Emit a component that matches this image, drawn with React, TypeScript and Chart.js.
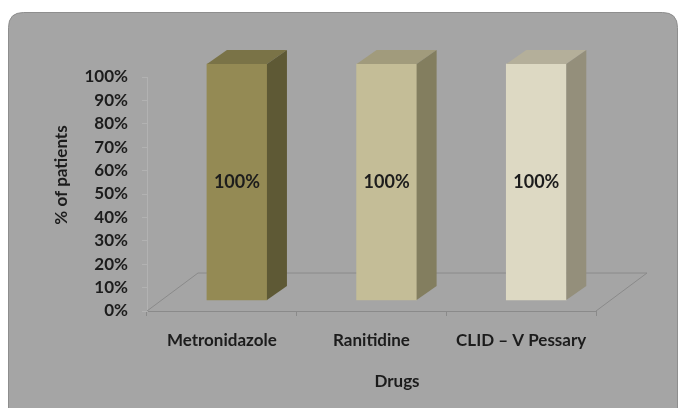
import { useEffect, useRef } from 'react';
import { Chart, registerables } from 'chart.js';

Chart.register(...registerables);

const drugs = ['Metronidazole', 'Ranitidine', 'CLID \u2013 V Pessary'];
const patientShare = [100, 100, 100];
const frontColors = ['#948a54', '#c4bd97', '#ddd9c3'];
const topColors = ['#7a7347', '#a19b7c', '#b4af9a'];
const sideColors = ['#5e5935', '#837e5f', '#948f7b'];
const yAxisTitle = '% of patients';
const xAxisTitle = 'Drugs';

const FONT = 'Lato, "Open Sans", "DejaVu Sans", sans-serif';
const FLOOR_DX = 51;
const FLOOR_DY = -38;
const BAR_DX = 20;
const BAR_DY = -14;

const threeD = {
  id: 'threeD',
  beforeDraw(chart: any) {
    const { ctx, width, height } = chart;
    ctx.save();
    ctx.fillStyle = '#ffffff';
    ctx.fillRect(0, 0, width, height);
    const x = 8.5, y = 12.5, w = 669, h = 430, r = 15;
    ctx.beginPath();
    ctx.moveTo(x + r, y);
    ctx.lineTo(x + w - r, y);
    ctx.quadraticCurveTo(x + w, y, x + w, y + r);
    ctx.lineTo(x + w, y + h);
    ctx.lineTo(x, y + h);
    ctx.lineTo(x, y + r);
    ctx.quadraticCurveTo(x, y, x + r, y);
    ctx.closePath();
    ctx.fillStyle = '#a5a5a5';
    ctx.fill();
    ctx.strokeStyle = '#8e8e8e';
    ctx.lineWidth = 1;
    ctx.stroke();
    ctx.restore();
  },
  beforeDatasetsDraw(chart: any) {
    const { ctx, chartArea } = chart;
    const { left, right, bottom } = chartArea;
    ctx.save();
    ctx.strokeStyle = '#8a8a8a';
    ctx.lineWidth = 1;
    ctx.beginPath();
    ctx.moveTo(left, bottom);
    ctx.lineTo(left + FLOOR_DX, bottom + FLOOR_DY);
    ctx.lineTo(right + FLOOR_DX, bottom + FLOOR_DY);
    ctx.lineTo(right, bottom);
    ctx.stroke();
    ctx.restore();
  },
  afterDatasetsDraw(chart: any) {
    const { ctx, chartArea } = chart;
    const meta = chart.getDatasetMeta(0);
    ctx.save();
    meta.data.forEach((el: any, i: number) => {
      const { x, y, base, width } = el.getProps(['x', 'y', 'base', 'width'], true);
      const l = x - width / 2;
      const r = x + width / 2;
      ctx.beginPath();
      ctx.moveTo(l, y);
      ctx.lineTo(r, y);
      ctx.lineTo(r + BAR_DX, y + BAR_DY);
      ctx.lineTo(l + BAR_DX, y + BAR_DY);
      ctx.closePath();
      ctx.fillStyle = topColors[i];
      ctx.fill();
      ctx.beginPath();
      ctx.moveTo(r, y);
      ctx.lineTo(r + BAR_DX, y + BAR_DY);
      ctx.lineTo(r + BAR_DX, base + BAR_DY);
      ctx.lineTo(r, base);
      ctx.closePath();
      ctx.fillStyle = sideColors[i];
      ctx.fill();
      ctx.fillStyle = '#1c1c1c';
      ctx.font = `bold 18px ${FONT}`;
      ctx.textAlign = 'center';
      ctx.textBaseline = 'middle';
      ctx.fillText(patientShare[i] + '%', x, (y + base) / 2);
    });
    ctx.fillStyle = '#1c1c1c';
    ctx.font = `bold 17px ${FONT}`;
    ctx.textAlign = 'center';
    ctx.textBaseline = 'middle';
    ctx.fillText(xAxisTitle, (chartArea.left + chartArea.right + FLOOR_DX) / 2, chartArea.bottom + 71);
    ctx.save();
    ctx.translate(62, (chartArea.top + FLOOR_DY + chartArea.bottom) / 2);
    ctx.rotate(-Math.PI / 2);
    ctx.fillText(yAxisTitle, 0, 0);
    ctx.restore();
    ctx.restore();
  },
};

export default function App() {
  const ref = useRef<HTMLCanvasElement | null>(null);
  useEffect(() => {
    if (!ref.current) return;
    const chart = new Chart(ref.current, {
      type: 'bar',
      data: {
        labels: drugs,
        datasets: [
          {
            label: yAxisTitle,
            data: patientShare.map((v, i) => ({ x: i, y: v })) as any,
            backgroundColor: frontColors,
            borderWidth: 0,
            barThickness: 60,
            xAxisID: 'xb',
            yAxisID: 'yb',
            clip: false as any,
          },
        ],
      },
      options: {
        animation: false,
        responsive: false,
        devicePixelRatio: 1,
        layout: { padding: { top: 77, right: 85, left: 0, bottom: 0 } },
        plugins: { legend: { display: false }, tooltip: { enabled: false } },
        scales: {
          x: {
            type: 'category',
            position: 'bottom',
            offset: true,
            grid: { display: true, drawOnChartArea: false, drawTicks: true, tickLength: 5, offset: true, color: '#8a8a8a' },
            border: { display: true, color: '#8a8a8a' },
            ticks: { color: '#1c1c1c', font: { family: FONT, size: 17, weight: 'bold' }, padding: 14, maxRotation: 0 },
            afterFit: (s: any) => { s.height = 97; },
          },
          y: {
            type: 'linear',
            position: 'left',
            min: 0,
            max: 100,
            grid: { display: true, drawOnChartArea: false, drawTicks: true, tickLength: 5, color: '#b2b2b2' },
            border: { display: true, color: '#b2b2b2' },
            ticks: {
              stepSize: 10,
              color: '#1c1c1c',
              font: { family: FONT, size: 17, weight: 'bold' },
              padding: 14,
              callback: (v: any) => v + '%',
            },
            afterFit: (s: any) => { s.width = 147; },
          },
          xb: {
            type: 'linear',
            display: false,
            offset: false,
            min: -0.601,
            max: 2.399,
          },
          yb: {
            type: 'linear',
            display: false,
            min: -4.66,
            max: 94.49,
          },
        },
      },
      plugins: [threeD],
    });
    return () => chart.destroy();
  }, []);
  return (
    <div style={{ position: 'fixed', left: 0, top: 0, width: 681, height: 408, background: '#fff' }}>
      <canvas ref={ref} width={681} height={408} style={{ display: 'block', width: 681, height: 408 }} />
    </div>
  );
}
